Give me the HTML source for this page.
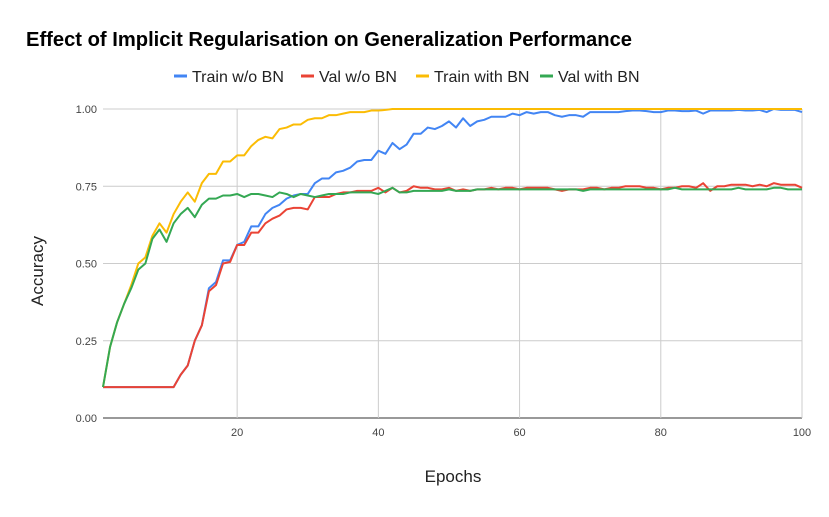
<!DOCTYPE html>
<html><head><meta charset="utf-8"><style>
body{margin:0;background:#fff;font-family:"Liberation Sans",Arial,sans-serif;}
svg text{font-family:"Liberation Sans",Arial,sans-serif;}
</style></head><body>
<svg id="chart" width="829" height="512" xmlns="http://www.w3.org/2000/svg">
<rect width="829" height="512" fill="#fff"/>
<text x="26" y="46" font-size="20" font-weight="bold" fill="#000" textLength="606" lengthAdjust="spacingAndGlyphs">Effect of Implicit Regularisation on Generalization Performance</text>
<g id="legend"></g>
<g id="grid"></g>
<g id="series"></g>
<text x="453" y="482" font-size="17" text-anchor="middle" fill="#222">Epochs</text>
<text transform="translate(43,271) rotate(-90)" font-size="17" text-anchor="middle" fill="#222">Accuracy</text>
</svg>
<script>
const xTicks=[20,40,60,80,100];
const yTicks=[0,0.25,0.5,0.75,1];
const yTickLabels=["0.00","0.25","0.50","0.75","1.00"];
const seriesNames=["Train w/o BN","Val w/o BN","Train with BN","Val with BN"];
const trainNoBN=[0.10,0.10,0.10,0.10,0.10,0.10,0.10,0.10,0.10,0.10,0.10,0.14,0.17,0.25,0.30,0.42,0.44,0.51,0.51,0.56,0.57,0.62,0.62,0.66,0.68,0.69,0.71,0.72,0.725,0.725,0.76,0.775,0.775,0.795,0.80,0.81,0.83,0.835,0.835,0.865,0.855,0.89,0.87,0.885,0.92,0.92,0.94,0.935,0.945,0.96,0.94,0.97,0.945,0.96,0.965,0.975,0.975,0.975,0.985,0.98,0.99,0.985,0.99,0.99,0.98,0.975,0.98,0.98,0.975,0.99,0.99,0.99,0.99,0.99,0.993,0.995,0.995,0.993,0.99,0.99,0.995,0.995,0.993,0.993,0.995,0.985,0.995,0.995,0.995,0.995,0.997,0.995,0.995,0.997,0.99,1.0,0.997,0.997,0.997,0.99];
const valNoBN=[0.10,0.10,0.10,0.10,0.10,0.10,0.10,0.10,0.10,0.10,0.10,0.14,0.17,0.25,0.30,0.41,0.43,0.50,0.505,0.56,0.56,0.60,0.60,0.63,0.645,0.655,0.675,0.68,0.68,0.675,0.715,0.715,0.715,0.725,0.73,0.73,0.735,0.735,0.735,0.745,0.73,0.745,0.73,0.735,0.75,0.745,0.745,0.74,0.74,0.745,0.735,0.74,0.735,0.74,0.74,0.745,0.74,0.745,0.745,0.74,0.745,0.745,0.745,0.745,0.74,0.735,0.74,0.74,0.74,0.745,0.745,0.74,0.745,0.745,0.75,0.75,0.75,0.745,0.745,0.74,0.745,0.745,0.75,0.75,0.745,0.76,0.735,0.75,0.75,0.755,0.755,0.755,0.75,0.755,0.75,0.76,0.755,0.755,0.755,0.745];
const trainBN=[0.10,0.23,0.31,0.37,0.43,0.50,0.52,0.59,0.63,0.60,0.66,0.70,0.73,0.70,0.76,0.79,0.79,0.83,0.83,0.85,0.85,0.88,0.90,0.91,0.905,0.935,0.94,0.95,0.95,0.965,0.97,0.97,0.98,0.98,0.985,0.99,0.99,0.99,0.995,0.995,0.997,1,1,1,1,1,1,1,1,1,1,1,1,1,1,1,1,1,1,1,1,1,1,1,1,1,1,1,1,1,1,1,1,1,1,1,1,1,1,1,1,1,1,1,1,1,1,1,1,1,1,1,1,1,1,1,1,1,1,1];
const valBN=[0.10,0.23,0.31,0.37,0.42,0.48,0.50,0.58,0.61,0.57,0.63,0.66,0.68,0.65,0.69,0.71,0.71,0.72,0.72,0.725,0.715,0.725,0.725,0.72,0.715,0.73,0.725,0.715,0.725,0.72,0.715,0.72,0.725,0.725,0.725,0.73,0.73,0.73,0.73,0.725,0.735,0.745,0.73,0.73,0.735,0.735,0.735,0.735,0.735,0.74,0.735,0.735,0.735,0.74,0.74,0.74,0.74,0.74,0.74,0.74,0.74,0.74,0.74,0.74,0.74,0.74,0.74,0.74,0.735,0.74,0.74,0.74,0.74,0.74,0.74,0.74,0.74,0.74,0.74,0.74,0.74,0.745,0.74,0.74,0.74,0.74,0.74,0.74,0.74,0.74,0.745,0.74,0.74,0.74,0.74,0.745,0.745,0.74,0.74,0.74];
const colors=["#4285f4","#ea4335","#fbbc04","#34a853"];
const allSeries=[trainNoBN,valNoBN,trainBN,valBN];
const NS="http://www.w3.org/2000/svg";
const X0=103,X1=802,Y0=418,Y1=109;
function xs(e){return X0+(e-1)/(100-1)*(X1-X0);}
function ys(v){return Y0-v*(Y0-Y1);}
function mk(t,a,p){const e=document.createElementNS(NS,t);for(const k in a)e.setAttribute(k,a[k]);p.appendChild(e);return e;}
const grid=document.getElementById('grid');
yTicks.forEach((v,i)=>{
  const l=mk('line',{x1:X0,x2:X1,y1:ys(v),y2:ys(v),stroke:i==0?'#333':'#ccc','stroke-width':1},grid);
  
  
  const t=mk('text',{x:97,y:ys(v)+4,'font-size':11,'text-anchor':'end',fill:'#444'},grid);
  t.textContent=yTickLabels[i];
  
  
});
xTicks.forEach(v=>{
  const l=mk('line',{x1:xs(v),x2:xs(v),y1:Y1,y2:Y0,stroke:'#ccc','stroke-width':1},grid);
  
  
  const t=mk('text',{x:xs(v),y:436,'font-size':11,'text-anchor':'middle',fill:'#444'},grid);
  t.textContent=v;
  
  
});
const sg=document.getElementById('series');
allSeries.forEach((s,i)=>{
  const d=s.map((v,j)=>(j?'L':'M')+xs(j+1).toFixed(2)+','+ys(v).toFixed(2)).join('');
  const p=mk('path',{d:d,fill:'none',stroke:colors[i],'stroke-width':2,'stroke-linejoin':'round'},sg);
  
  
});
const lg=document.getElementById('legend');
const lx=[174,301,416,540];
seriesNames.forEach((n,i)=>{
  const g=mk('g',{},lg);
  
  
  mk('line',{x1:lx[i],x2:lx[i]+13,y1:76,y2:76,stroke:colors[i],'stroke-width':3},g);
  const t=mk('text',{x:lx[i]+18,y:82,'font-size':16,fill:'#222'},g);
  t.textContent=n;
});
</script>
</body></html>
